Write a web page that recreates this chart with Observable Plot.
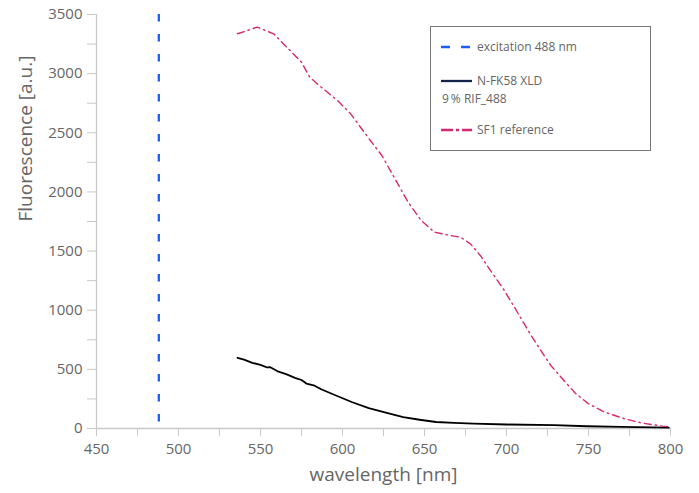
<!DOCTYPE html>
<html>
<head>
<meta charset="utf-8">
<script src="https://cdn.jsdelivr.net/npm/d3@7"></script>
<script src="https://cdn.jsdelivr.net/npm/@observablehq/plot@0.6"></script>
<style>
  html, body { margin: 0; padding: 0; background: #fff; }
  #wrap { position: relative; width: 699px; height: 493px; font-family: "Open Sans", sans-serif; }
  #legend { position: absolute; left: 430px; top: 26px; width: 221px; height: 125px; border: 1px solid #777; box-sizing: border-box; background: #fff; color: #666; font-size: 12px; }
  .row { position: absolute; left: 10px; display: flex; align-items: center; white-space: nowrap; }
  .row svg { margin-right: 5px; }
</style>
</head>
<body>
<div id="wrap"></div>
<script>
// Data
const xTicks = [450, 500, 550, 600, 650, 700, 750, 800];
const xMinorTicks = [475, 525, 575, 625, 675, 725, 775];
const yTicks = [0, 500, 1000, 1500, 2000, 2500, 3000, 3500];
const yMinorTicks = [250, 750, 1250, 1750, 2250, 2750, 3250];

const excitationWavelength = [488];

const sf1Wavelength = [536, 548, 558, 567, 575, 580, 587, 597, 605, 611, 617, 624, 632, 640, 648, 656, 664, 672, 678, 684, 691, 698, 703, 709, 715, 721, 727, 735, 742, 750, 760, 772, 783, 795, 800];
const sf1Values = [3337, 3393, 3337, 3210, 3097, 2970, 2885, 2773, 2660, 2547, 2435, 2308, 2111, 1913, 1758, 1660, 1637, 1617, 1561, 1463, 1321, 1181, 1068, 927, 786, 659, 533, 406, 298, 209, 138, 82, 45, 20, 14];

const nfkWavelength = [536, 540, 545, 550, 554, 556, 561, 566, 571, 575, 578, 583, 587, 596, 606, 616, 627, 637, 647, 657, 668, 680, 700, 729, 749, 770, 799];
const nfkValues = [598, 582, 555, 538, 516, 518, 480, 458, 428, 410, 380, 362, 332, 279, 222, 172, 133, 96, 74, 55, 48, 42, 34, 28, 19, 14, 8];

const sf1 = sf1Wavelength.map((w, i) => ({w, v: sf1Values[i]}));
const nfk = nfkWavelength.map((w, i) => ({w, v: nfkValues[i]}));

const axisGray = "#c8c8c8";
const textGray = "#666";
const blue = "#1f5cff";
const pink = "#d6286f";

const chart = Plot.plot({
  width: 699,
  height: 493,
  marginLeft: 96,
  marginRight: 29,
  marginTop: 14,
  marginBottom: 65,
  style: {fontFamily: "'Open Sans', sans-serif", fontSize: "15px", color: textGray, background: "#fff"},
  x: {domain: [450, 800], axis: null},
  y: {domain: [0, 3500], axis: null},
  marks: [
    Plot.ruleY([0], {stroke: axisGray, strokeWidth: 1.3}),
    Plot.ruleX([450], {stroke: axisGray, strokeWidth: 1.3}),
    Plot.axisX(xMinorTicks, {tickSize: 8, stroke: axisGray, fill: textGray, tickFormat: () => "", label: null}),
    Plot.axisX(xTicks, {tickSize: 8, tickPadding: 7, stroke: axisGray, fill: textGray, fontSize: 15, label: null}),
    Plot.axisY(yMinorTicks, {tickSize: 9, stroke: axisGray, fill: textGray, tickFormat: () => "", label: null}),
    Plot.axisY(yTicks, {tickSize: 9, tickPadding: 5, stroke: axisGray, fill: textGray, fontSize: 15, tickFormat: d => String(d), label: null}),
    Plot.text(["wavelength [nm]"], {frameAnchor: "bottom", dy: 52, fontSize: 19, fill: textGray}),
    Plot.text(["Fluorescence [a.u.]"], {frameAnchor: "left", dx: -71, rotate: -90, fontSize: 19, fill: textGray}),
    Plot.ruleX(excitationWavelength, {stroke: blue, strokeWidth: 2.3, strokeDasharray: "7.5,12.5"}),
    Plot.line(nfk, {x: "w", y: "v", stroke: "#000", strokeWidth: 1.8}),
    Plot.line(sf1, {x: "w", y: "v", stroke: pink, strokeWidth: 1.4, strokeDasharray: "7,4,1.5,4"})
  ]
});

const wrap = document.getElementById("wrap");
wrap.appendChild(chart);

const legend = document.createElement("div");
legend.id = "legend";
legend.innerHTML = `
  <div class="row" style="top:11px;"><svg width="31" height="6"><line x1="0" y1="3" x2="31" y2="3" stroke="${blue}" stroke-width="2.3" stroke-dasharray="9,11"/></svg><span>excitation 488 nm</span></div>
  <div class="row" style="top:45px;"><svg width="31" height="6"><line x1="0" y1="3" x2="31" y2="3" stroke="#13234a" stroke-width="2.3"/></svg><span>N-FK58 XLD</span></div>
  <div class="row" style="top:63px; left:11px;"><span>9&#8201;% RIF_488</span></div>
  <div class="row" style="top:94px;"><svg width="31" height="6"><line x1="0" y1="3" x2="31" y2="3" stroke="${pink}" stroke-width="2.3" stroke-dasharray="12,3,3,3"/></svg><span>SF1 reference</span></div>
`;
wrap.appendChild(legend);
</script>
</body>
</html>
